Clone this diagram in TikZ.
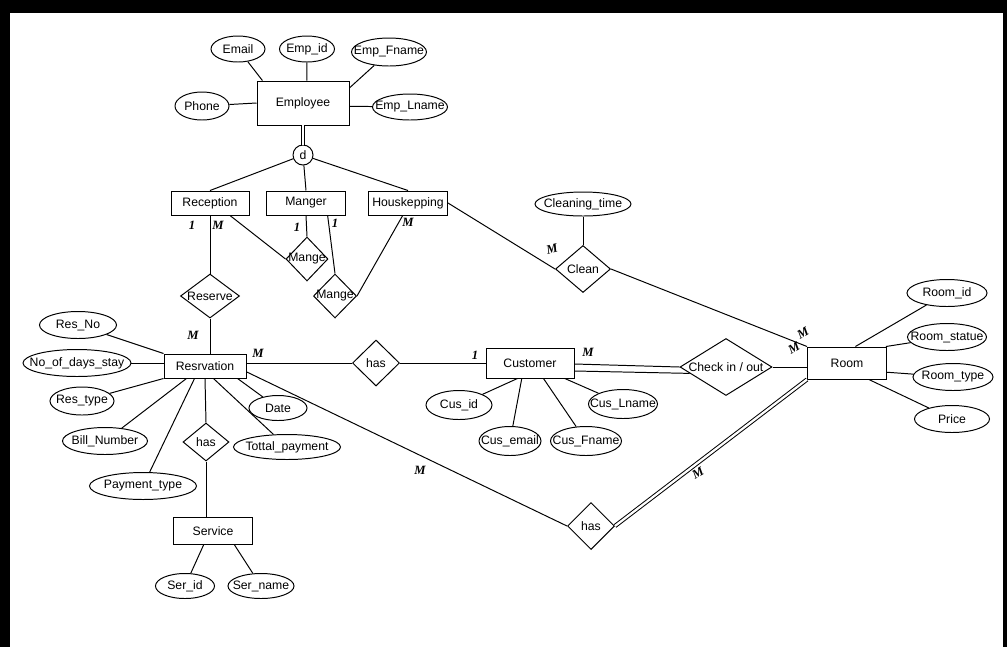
\documentclass[tikz,border=0pt]{standalone}
\usepackage{fontspec}
\setmainfont{Liberation Sans}
\newfontfamily\handfont{Liberation Serif}
\usetikzlibrary{shapes,positioning,calc}
\newlength\px
\setlength\px{0.025cm}

\tikzset{
  entity/.style={draw,rectangle,inner sep=0pt,align=center},
  attr/.style={draw,ellipse,inner sep=0pt},
  rel/.style={draw,diamond,inner sep=0pt},
  card/.style={font=\handfont\bfseries\itshape\fontsize{9}{10}\selectfont,inner sep=0pt},
  dbl/.style={double,double distance=1.6pt},
}

\begin{document}
\begin{tikzpicture}[x=0.025cm,y=-0.025cm,line width=0.7pt,font=\fontsize{8.7}{10}\selectfont]
  \fill[black] (0,0) rectangle (1007,647);
  \fill[white] (10,13) rectangle (1003,647);

  % entities
  \foreach \n/\x/\y/\w/\h/\t in {emp/303/103/92/44/Employee,rec/210/203/78/24/Reception,
      man/306/203/79/24/Manger,hk/408/203/79/24/Houskepping,resv/205/366/82/24/Resrvation,
      cust/530/363/88/30/Customer,room/847/363/79/32/Room,serv/213/531/79/27/Service}{
    \node[entity,minimum width=\w\px,minimum height=\h\px] (\n) at (\x,\y) {\t};
  }
  \node[draw,circle,inner sep=0pt,minimum size=20\px] (d) at (303,155) {d};

  % attributes
  \foreach \n/\x/\y/\w/\h/\t in {email/238/49/54/26/Email,empid/307/49/55/26/Emp\_id,
      efname/389/52/75/28/Emp\_Fname,phone/202/106/54/28/Phone,elname/410/107/75/26/Emp\_Lname,
      ctime/583/204/96/24/Cleaning\_time,resno/78/325/77/27/Res\_No,
      nodays/77/363/108/27/No\_of\_days\_stay,restype/82/401/64/28/Res\_type,
      billno/105/441/85/27/Bill\_Number,paytype/143/486/107/27/Payment\_type,
      date/278/408/58/25/Date,totpay/287/447/107/25/Tottal\_payment,
      cusid/459/405/66/29/Cus\_id,cusmail/510/441/62/29/Cus\_email,
      cusfn/586/441/71/29/Cus\_Fname,cusln/623/404/69/29/Cus\_Lname,
      roomid/947/293/80/27/Room\_id,roomst/947/337/79/27/Room\_statue,
      roomty/953/377/80/27/Room\_type,price/952/419/75/27/Price,
      serid/185/586/59/25/Ser\_id,sername/261/586/66/25/Ser\_name}{
    \node[attr,minimum width=\w\px,minimum height=\h\px] (\n) at (\x,\y) {\makebox[0pt]{\t}};
  }

  % relationships
  \foreach \n/\x/\y/\w/\h/\t in {rsv/210/296/59/44/Reserve,mg1/307/259/42/44/Mange,
      mg2/335/296/43/44/Mange,clean/583/269/55/47/Clean,has1/376/363/47/46/has,
      chk/726/367/92/57/{Check in / out},has2/591/526/47/47/has,has3/206/442/46/38/has}{
    \node[rel,minimum width=\w\px,minimum height=\h\px] (\n) at (\x,\y) {\makebox[0pt]{\t}};
  }

  % attribute lines
  \foreach \a/\b in {email/emp.151,empid/emp.80,efname/emp.18,phone/emp.west,elname/emp.-4,
      resno/resv.north west,restype/resv.south west,billno/resv.214,paytype/resv.230,
      totpay/resv.-56,date/resv.-21,cusid/cust.231,cusmail/cust.242,cusfn/cust.311,
      cusln/cust.-24,roomid/room.63,roomst/room.23,roomty/room.-13,price/room.-37,
      serid/serv.236,sername/serv.-33,ctime/clean}{
    \draw (\a) -- (\b);
  }
  \draw (nodays.east) -- (nodays.east -| resv.west);

  % specialisation
  \draw[dbl] (emp.south) -- (d.north);
  \draw (d) -- (rec.north);
  \draw (d) -- (man.north);
  \draw (d) -- (hk.north);

  % relationship lines
  \draw (rec.south) -- (rsv.north);
  \draw (rsv.south) -- (rsv.south |- resv.north);
  \draw (rec.-32) -- (mg1.west);
  \draw (man.south) -- (mg1.north);
  \draw (man.-30) -- (mg2.north);
  \draw (mg2.east) -- (hk.-113);
  \draw (hk.east) -- (clean.west);
  \draw (clean.east) -- (room.north west);
  \draw (has1.west -| resv.east) -- (has1.west);
  \draw (has1.east) -- (cust.west);
  \draw ($(cust.east)+(0,1)$) -- (chk.west);
  \draw ($(cust.east)+(0,8)$) -- ($(chk.west)!0.22!(chk.south)$);
  \draw (chk.east) -- (chk.east -| room.west);
  \draw (resv.-8) -- (has2.west);
  \draw[dbl] (has2.east) -- (room.south west);
  \draw (resv.south) -- (has3.north);
  \draw (has3.south) -- (has3.south |- serv.north);

  % cardinalities
  \foreach \n/\x/\y/\r/\t in {c1/192/225/0/1,c2/218/225/0/M,c3/297/227/0/1,c4/335/223/0/1,
      c5/408/222/0/M,c6/552/249/15/M,c7/193/335/0/M,c8/258/353/0/M,c9/475/355/0/1,
      c10/588/352/0/M,c11/803/333/30/M,c12/794/348/30/M,c13/420/470/0/M,c14/698/473/30/M}{
    \node[card,rotate=\r] (\n) at (\x,\y) {\t};
  }
\end{tikzpicture}
\end{document}
